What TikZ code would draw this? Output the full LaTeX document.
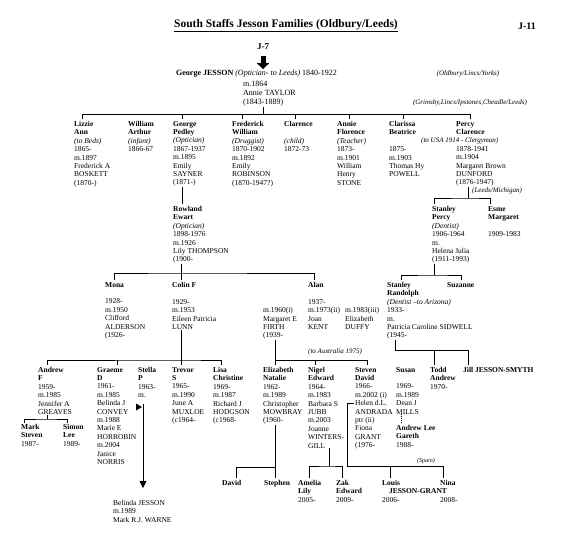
\documentclass[tikz,border=0pt]{standalone}
\usepackage{fontspec}
\setmainfont{Liberation Serif}
\usetikzlibrary{arrows.meta}
\begin{document}
\begin{tikzpicture}[x=1pt, y=-1pt,
    person/.style={anchor=north west, align=left, inner sep=0pt, font=\fontsize{7.5}{8.4}\selectfont},
    note/.style={anchor=west, inner sep=0pt, font=\fontsize{7}{8.4}\selectfont\itshape},
    link/.style={line width=0.9pt}]
    \useasboundingbox (0,0) rectangle (567,546);

    % Heading
    \node[font=\fontsize{11.5}{13}\selectfont\bfseries] (title) at (286,26) {\underline{South Staffs Jesson Families (Oldbury/Leeds)}};
    \node[font=\fontsize{10}{12}\selectfont\bfseries] (sheet) at (527,26) {J-11};
    \node[font=\fontsize{9}{11}\selectfont\bfseries] (j7) at (263,47) {J-7};

    % Generation 1: George and Annie
    \node[anchor=west, inner sep=0pt, font=\fontsize{8}{9.3}\selectfont] (gj) at (176,74) {\textbf{George JESSON} \textit{(Optician- to Leeds)} 1840-1922};
    \node[person, font=\fontsize{8}{9.3}\selectfont] (gjw) at (243,80.5) {m.1864\\Annie TAYLOR\\(1843-1889)};
    \draw[line width=5pt, -{Triangle[width=12pt,length=6pt]}, shorten <=2pt, shorten >=1pt] (j7.south) -- (gj.north -| j7);
    \node[note, anchor=center] (oldbury) at (468,74) {(Oldbury/Lincs/Yorks)};
    \node[note, anchor=center] (grimsby) at (470,103) {(Grimsby,Lincs/Ipstones,Cheadle/Leeds)};
    \coordinate (bus1) at (263,114);
    \draw[link] (gjw.south -| bus1) -- (bus1);

    % Generation 2: children of George
    \node[person] (lizzie) at (74,121) {\textbf{Lizzie}\\\textbf{Ann}\\\textit{(to Beds)}\\1865-\\m.1897\\Frederick A\\BOSKETT\\(1870-)};
    \node[person] (william) at (128,121) {\textbf{William}\\\textbf{Arthur}\\\textit{(infant)}\\1866-67};
    \node[person] (george) at (173,121) {\textbf{George}\\\textbf{Pedley}\\\textit{(Optician)}\\1867-1937\\m.1895\\Emily\\SAYNER\\(1871-)};
    \node[person] (frederick) at (232,121) {\textbf{Frederick}\\\textbf{William}\\\textit{(Druggist)}\\1870-1902\\m.1892\\Emily\\ROBINSON\\(1870-1947?)};
    \node[person] (clarence) at (284,121) {\textbf{Clarence}\\~\\\textit{(child)}\\1872-73};
    \node[person] (annie) at (337,121) {\textbf{Annie}\\\textbf{Florence}\\\textit{(Teacher)}\\1873-\\m.1901\\William\\Henry\\STONE};
    \node[person] (clarissa) at (389,121) {\textbf{Clarissa}\\\textbf{Beatrice}\\~\\1875-\\m.1903\\Thomas Hy\\POWELL};
    \node[person] (percy) at (456,121) {\textbf{Percy}\\\textbf{Clarence}\\~\\1878-1941\\m.1904\\Margaret Brown\\DUNFORD\\(1876-1947)};
    \node[note] (usa) at (421,140.8) {(to USA 1914 - Clergyman)};
    \draw[link] ([xshift=8pt]lizzie.north west |- bus1) -- ([xshift=14pt]percy.north west |- bus1);
    \foreach \c/\dx in {lizzie/8, george/9, frederick/10, clarence/11, annie/12, clarissa/14, percy/14}
        \draw[link] ([xshift=\dx pt, yshift=2pt]\c.north west) -- ([xshift=\dx pt]\c.north west |- bus1);

    % Generation 3: Rowland, Stanley Percy, Esme
    \node[person] (rowland) at (173,206) {\textbf{Rowland}\\\textbf{Ewart}\\\textit{(Optician)}\\1898-1976\\m.1926\\Lily THOMPSON\\(1900-};
    \draw[link] ([xshift=9pt]george.south west) -- ([xshift=9pt, yshift=2pt]rowland.north west);
    \node[person] (stanleyp) at (432,206) {\textbf{Stanley}\\\textbf{Percy}\\\textit{(Dentist)}\\1906-1964\\m.\\Helena Julia\\(1911-1993)};
    \node[person] (esme) at (488,206) {\textbf{Esme}\\\textbf{Margaret}\\~\\1909-1983};
    \coordinate (bus2) at (468,198);
    \draw[link] ([xshift=12pt]percy.south west) -- (bus2);
    \node[note] (leeds) at (472,191) {(Leeds/Michigan)};
    \draw[link] ([xshift=2pt, yshift=2pt]stanleyp.north west) |- (bus2) -| ([xshift=2pt, yshift=2pt]esme.north west);

    % Generation 4: children of Rowland
    \node[person] (mona) at (105,282) {\textbf{Mona}\\~\\1928-\\m.1950\\Clifford\\ALDERSON\\(1926-};
    \node[person] (colin) at (172,282) {\textbf{Colin F}\\~\\1929-\\m.1953\\Eileen Patricia\\LUNN};
    \node[person] (alan) at (308,282) {\textbf{Alan}\\~\\1937-\\m.1973(ii)\\Joan\\KENT};
    \node[person] (firth) at (263,307.2) {m.1960(i)\\Margaret E\\FIRTH\\(1939-};
    \node[person] (duffy) at (345,307.2) {m.1983(iii)\\Elizabeth\\DUFFY};
    \coordinate (bus4) at (181,273);
    \draw[link] ([xshift=8pt]rowland.south west) -- (bus4);
    \draw[link] ([xshift=9pt, yshift=2pt]mona.north west) |- (bus4) -| ([xshift=6pt, yshift=2pt]alan.north west);
    \draw[link] (bus4) -- ([xshift=9pt, yshift=2pt]colin.north west);

    % Generation 4: children of Stanley Percy
    \node[person] (stanleyr) at (387,282) {\textbf{Stanley}\\\textbf{Randolph}\\\textit{(Dentist --to Arizona)}\\1933-\\m.\\Patricia Caroline SIDWELL\\(1945-};
    \node[person] (suzanne) at (447,282) {\textbf{Suzanne}};
    \coordinate (bus3) at (434,275);
    \draw[link] ([xshift=2pt]stanleyp.south west) -- (bus3);
    \draw[link] ([xshift=14pt, yshift=2pt]stanleyr.north west) |- (bus3) -| ([xshift=14pt, yshift=2pt]suzanne.north west);

    % Generation 5: children of Colin
    \node[person] (andrew) at (38,367) {\textbf{Andrew}\\\textbf{F}\\1959-\\m.1985\\Jennifer A\\GREAVES};
    \node[person] (graeme) at (97,367) {\textbf{Graeme}\\\textbf{D}\\1961-\\m.1985\\Belinda J\\CONVEY\\m.1988\\Marie E\\HORROBIN\\m.2004\\Janice\\NORRIS};
    \node[person] (stella) at (138,367) {\textbf{Stella}\\\textbf{P}\\1963-\\m.};
    \node[person] (trevor) at (172,367) {\textbf{Trevor}\\\textbf{S}\\1965-\\m.1990\\June A\\MUXLOE\\(c1964-};
    \node[person] (lisa) at (213,367) {\textbf{Lisa}\\\textbf{Christine}\\1969-\\m.1987\\Richard J\\HODGSON\\(c1968-};
    \coordinate (bus5) at (181,360);
    \draw[link] ([xshift=9pt]colin.south west) -- (bus5);
    \draw[link] ([xshift=9pt, yshift=2pt]andrew.north west) |- (bus5) -| ([xshift=8pt, yshift=2pt]lisa.north west);
    \foreach \c/\dx in {graeme/20, trevor/9}
        \draw[link] ([xshift=\dx pt, yshift=2pt]\c.north west) -- ([xshift=\dx pt]\c.north west |- bus5);

    % Generation 5: children of Alan
    \node[note] (australia) at (308,352) {(to Australia 1975)};
    \node[person] (elizabeth) at (263,367) {\textbf{Elizabeth}\\\textbf{Natalie}\\1962-\\m.1989\\Christopher\\MOWBRAY\\(1960-};
    \node[person] (nigel) at (308,367) {\textbf{Nigel}\\\textbf{Edward}\\1964-\\m.1983\\Barbara S\\JUBB\\m.2003\\Joanne\\WINTERS-\\GILL};
    \node[person] (steven) at (355,367) {\textbf{Steven}\\\textbf{David}\\1966-\\m.2002 (i)\\Helen d.L.\\ANDRADA\\ptr (ii)\\Fiona\\GRANT\\(1976-};
    \coordinate (bus7) at (275,360);
    \draw[link] ([xshift=12pt]firth.south west) -- ([xshift=12pt, yshift=2pt]elizabeth.north west);
    \draw[link] (bus7) -- ([xshift=12pt]steven.north west |- bus7);
    \foreach \c/\dx in {nigel/7, steven/12}
        \draw[link] ([xshift=\dx pt, yshift=2pt]\c.north west) -- ([xshift=\dx pt]\c.north west |- bus7);

    % Generation 5: children of Stanley Randolph
    \node[person] (susan) at (396,367) {\textbf{Susan}\\~\\1969-\\m.1989\\Dean J\\MILLS};
    \node[person] (todd) at (430,367) {\textbf{Todd}\\\textbf{Andrew}\\1970-};
    \node[person] (jill) at (463,367) {\textbf{Jill JESSON-SMYTH}};
    \coordinate (bus11) at (395,350);
    \draw[link] ([xshift=8pt]stanleyr.south west) -- (bus11) -| ([xshift=5pt, yshift=2pt]jill.north west);
    \draw[link] ([xshift=4pt, yshift=2pt]todd.north west) -- ([xshift=4pt]todd.north west |- bus11);

    % Generation 6
    \node[person] (mark) at (21,424) {\textbf{Mark}\\\textbf{Steven}\\1987-};
    \node[person] (simon) at (63,424) {\textbf{Simon}\\\textbf{Lee}\\1989-};
    \coordinate (bus6) at (47,419);
    \draw[link] ([xshift=9pt]andrew.south west) -- (bus6);
    \draw[link] ([xshift=3pt, yshift=1pt]mark.north west) |- (bus6) -| ([xshift=4pt, yshift=1pt]simon.north west);

    \node[person] (belinda) at (113,500) {Belinda JESSON\\m.1989\\Mark R.J. WARNE};
    \coordinate (stellam) at (136,403.5);
    \fill (stellam) -- ++(6,3.5) -- ++(-6,3.5) -- cycle;
    \draw[link, -{Triangle[width=7pt,length=7pt]}] ([xshift=7pt]stellam) -- ([xshift=30pt, yshift=12pt]belinda.north west);

    \node[person] (andrewlee) at (396,425) {\textbf{Andrew Lee}\\\textbf{Gareth}\\1988-};
    \draw[link, densely dotted] ([xshift=5pt]susan.south west) -- ([xshift=5pt, yshift=2pt]andrewlee.north west);

    \node[person] (david) at (222,480) {\textbf{David}};
    \node[person] (stephen) at (264,480) {\textbf{Stephen}};
    \coordinate (bus8) at (275,467);
    \draw[link] ([xshift=12pt]elizabeth.south west) -- ([xshift=11pt, yshift=2pt]stephen.north west);
    \draw[link] ([xshift=14pt, yshift=2pt]david.north west) |- (bus8);

    \node[person] (amelia) at (298,480) {\textbf{Amelia}\\\textbf{Lily}\\2005-};
    \node[person] (zak) at (336,480) {\textbf{Zak}\\\textbf{Edward}\\2009-};
    \coordinate (bus9) at (329,466);
    \draw[link] ([xshift=21pt]nigel.south west) -- (bus9);
    \draw[link] ([xshift=11pt, yshift=2pt]amelia.north west) |- (bus9) -| ([xshift=6pt, yshift=2pt]zak.north west);

    \node[person] (louis) at (382,480) {\textbf{Louis}\\~\\2006-};
    \node[person] (nina) at (440,480) {\textbf{Nina}\\~\\2008-};
    \node[font=\fontsize{7.5}{8.4}\selectfont\bfseries, inner sep=0pt] (grant) at (418,491.4) {JESSON-GRANT};
    \node[note, anchor=center, font=\fontsize{6}{7}\selectfont\itshape] (spain) at (426,461) {(Spain)};
    \coordinate (bus10) at (347,466);
    \draw[link] ([xshift=-1pt, yshift=-36.6pt]steven.north west) -| (bus10) -| ([xshift=3pt, yshift=2pt]nina.north west);
    \draw[link] ([xshift=8pt, yshift=2pt]louis.north west) -- ([xshift=8pt]louis.north west |- bus10);
\end{tikzpicture}
\end{document}
